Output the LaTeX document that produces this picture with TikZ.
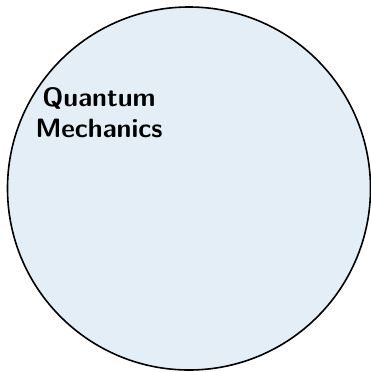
\documentclass[tikz,border=0pt]{standalone}
\definecolor{qfill}{RGB}{227,238,246}
\tikzset{setcircle/.style={draw=black,line width=1.6pt,fill=qfill},
  setlabel/.style={font=\sffamily\bfseries\fontsize{26.5}{31}\selectfont,align=center,inner sep=0pt}}
\begin{document}
\begin{tikzpicture}[x=1pt,y=-1pt]
\useasboundingbox (0,0) rectangle (371,372);
\node[setcircle,circle,minimum size=363pt,inner sep=0pt] (qm) at (189,188.5) {};
\node[setlabel] (lbl) at (99,113) {Quantum\\Mechanics};
\end{tikzpicture}
\end{document}
